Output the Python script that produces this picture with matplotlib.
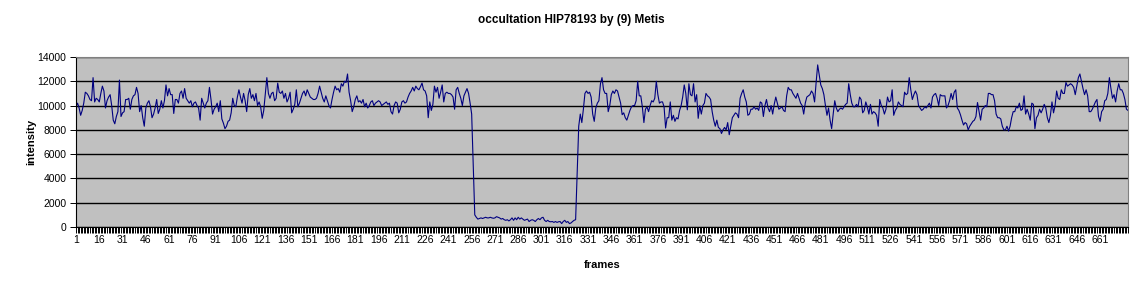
import numpy as np
import matplotlib
matplotlib.use("Agg")
from matplotlib import pyplot as plt
from matplotlib.ticker import MultipleLocator, FixedLocator

# intensity per frame
before = [
    9900, 10200, 9800, 9200, 9600, 10200, 11100, 11000, 10800, 10500,
    10400, 12300, 10300, 10600, 10500, 10300, 11000, 11600, 11200, 9800,
    10400, 10700, 10900, 10000, 8800, 8500, 9100, 9500, 12100, 9100,
    9400, 9500, 10500, 10500, 10600, 9700, 10500, 10800, 10900, 11500,
    11000, 9500, 10000, 9000, 8300, 9800, 10200, 10400, 9900, 9000,
    9300, 9800, 10500, 9350, 9700, 10400, 9800, 10400, 11700, 10800,
    11400, 10900, 10900, 9350, 10500, 10500, 10200, 11000, 11200, 10600,
    11400, 10600, 10400, 10200, 10400, 9900, 10200, 10300, 10000, 9800,
    8800, 10600, 10200, 9800, 10200, 10400, 11500, 10500, 9300, 9700,
    9900, 10200, 9500, 10400, 8900, 8550, 8100, 8300, 8700, 8800,
    9400, 10600, 10000, 9900, 10700, 11300, 10700, 10200, 11000, 10400,
    9500, 10900, 11400, 10600, 10900, 10400, 11000, 10000, 10300, 9900,
    8950, 9600, 11000, 12300, 11000, 10600, 11000, 11100, 10400, 10600,
    11850, 11100, 11000, 11200, 10600, 11000, 10300, 10600, 11100, 9400,
    9700, 10100, 11300, 9900, 10200, 10600, 11000, 11200, 10800, 11300,
    11000, 10700, 10600, 10500, 10500, 10600, 11000, 11600, 11100, 10600,
    10300, 10800, 10400, 10000, 9800, 10500, 11100, 11600, 11300, 11400,
    11100, 11800, 11600, 12000, 11900, 12600, 11100, 10400, 9500, 9900,
    10500, 10800, 10300, 10400, 10200, 10500, 9900, 10200, 9800, 10000,
    10300, 10400, 10000, 10200, 10300, 10400, 10300, 10000, 10100, 10200,
    10300, 10100, 10200, 9500, 9300, 10000, 10300, 10200, 9400, 9700,
    10300, 10400, 10200, 10300, 10700, 11000, 11200, 11500, 11200, 11600,
    11400, 11300, 11550, 11850, 11300, 11200, 10800, 9000, 10300, 9600,
    10100, 11600, 11100, 11500, 10600, 11100, 11700, 10300, 11000, 11100,
    11000, 11000, 10900, 10700, 9700, 11300, 11500, 11000, 10600, 10000,
    10800, 11100, 11400, 11000, 10200, 9300,
]

during = [
    5000, 1000, 800, 650, 700, 750, 700, 750, 800, 750,
    750, 800, 750, 720, 750, 850, 800, 750, 650, 700,
    600, 550, 600, 500, 600, 750, 550, 750, 600, 800,
    650, 750, 650, 550, 600, 650, 450, 550, 600, 550,
    450, 600, 700, 600, 750, 800, 550, 450, 550, 450,
    430, 450, 380, 450, 380, 430, 450, 280, 450, 550,
    380, 450, 280, 330, 450, 550, 600,
]

after = [
    4500, 8300, 9300, 8600, 9700, 11000, 11200,
    11000, 11100, 10700, 9300, 8700, 9800, 10200, 10400,
    11800, 12300, 11300, 11000, 11000, 9500, 10000, 10900, 11200, 11000,
    11300, 11200, 10700, 10200, 9250, 9400, 9000, 8800, 9200, 9600,
    9900, 10000, 10000, 10400, 12000, 10800, 10800, 9900, 8600, 9700,
    9900, 9500, 10000, 10400, 10300, 10600, 12000, 10900, 10200, 10300,
    10300, 9900, 8150, 9000, 9000, 10300, 8800, 9200, 8700, 9000,
    8900, 9600, 10000, 10700, 11700, 11000, 9650, 11800, 10900, 10800,
    11800, 10300, 10900, 8950, 10000, 9300, 10000, 10200, 11000, 10800,
    10700, 10500, 9500, 8800, 8300, 8800, 8200, 8100, 7700, 8000,
    8200, 8000, 8600, 7600, 8300, 9000, 9200, 9400, 9300, 9000,
    10600, 11000, 11300, 10700, 10300, 9200, 9300, 9700, 9700, 9900,
    9700, 9800, 9600, 10300, 10200, 9100, 10000, 10500, 9800, 9500,
    10000, 9300, 10100, 10700, 10200, 9700, 9800, 9900, 9600, 9500,
    10800, 11500, 11300, 11300, 11000, 10800, 10600, 11000, 10600, 10200,
    10000, 9300, 10200, 10700, 10800, 10900, 11200, 11000, 10300, 11900,
    13350, 12500, 11700, 11400, 10900, 10000, 9200, 9800, 8800, 8100,
    9300, 10400, 9800, 9500, 9700, 9800, 9700, 9900, 10100, 10200,
    11800, 10900, 10200, 9900, 9900, 10100, 9900, 10700, 10500, 9400,
    9600, 10300, 9900, 9300, 10100, 9300, 9500, 9400, 9200, 8300,
    10500, 10000, 9800, 9300, 9700, 10700, 10300, 10400, 11300, 9200,
    9600, 9800, 10300, 10100, 10000, 9900, 11100, 10900, 11000, 12300,
    11300, 10500, 10900, 11200, 10900, 10000, 9800, 9600, 9700, 9900,
    9800, 10000, 10200, 9800, 10700, 10900, 11000, 10600, 10000, 10900,
    10800, 10800, 10800, 9800, 10000, 10400, 11000, 10500, 11100, 11300,
    9800, 9600, 9250, 8800, 8400, 8600, 8500, 8000, 8300, 8500,
    8700, 8800, 9100, 10250, 9500, 8800, 9700, 9800, 10000, 9900,
    11000, 11000, 10900, 10900, 10400, 9300, 9000, 9000, 8900, 8300,
    8000, 8000, 8300, 7900, 8300, 9000, 9500, 9500, 9900, 9800,
    10200, 9600, 9700, 10800, 9300, 9700, 9300, 8800, 10200, 10100,
    8100, 9000, 9200, 9700, 9400, 9700, 10100, 9800, 9000, 8600,
    9200, 10300, 9400, 10000, 11200, 10600, 10500, 11300, 11000, 11000,
    11900, 11600, 11700, 11800, 11700, 11500, 10900, 11600, 12300, 12600,
    12000, 11400, 10900, 11300, 10800, 9500, 9500, 9700, 10000, 10300,
    10500, 9100, 8700, 9500, 9700, 10400, 10500, 11000, 12300, 11400,
    10600, 10900, 10300, 11200, 11800, 11300, 11300, 11000, 10500, 9700,
    9600,
]

intensity = np.array(before + during + after)
frames = np.arange(1, len(intensity) + 1)
ytick_values = list(range(0, 14001, 2000))
xtick_labels = list(range(1, 662, 15))

plt.rcParams['font.family'] = ['Liberation Sans', 'DejaVu Sans']

fig = plt.figure(figsize=(11.42, 2.90), dpi=100)
ax = fig.add_axes([76 / 1142, 1 - 227 / 290, (1128 - 76) / 1142, (227 - 57) / 290])
ax.set_facecolor('#c0c0c0')

ax.plot(frames, intensity, color='#000080', lw=0.8)

ax.set_xlim(1, len(intensity))
ax.set_ylim(0, 14000)
ax.set_yticks(ytick_values)
ax.set_yticklabels([str(v) for v in ytick_values])
ax.yaxis.grid(True, color='black', lw=1)
ax.set_axisbelow(True)

ax.xaxis.set_major_locator(FixedLocator(xtick_labels))
ax.set_xticklabels([str(v) for v in xtick_labels])
ax.xaxis.set_minor_locator(MultipleLocator(1))
ax.tick_params(axis='x', which='both', direction='out', length=4, width=0.7,
               labelsize=7.5, pad=2, color='black')
ax.tick_params(axis='y', direction='out', length=4, width=0.7, labelsize=7.5, pad=3)

for side in ('top', 'right'):
    ax.spines[side].set_color('#808080')
for side in ('left', 'bottom'):
    ax.spines[side].set_color('black')

fig.text(0.5, 1 - 20 / 290, 'occultation HIP78193 by (9) Metis',
         ha='center', va='center', fontsize=8.5, fontweight='bold')
fig.text(602 / 1142, 1 - 265 / 290, 'frames', ha='center', va='center',
         fontsize=8, fontweight='bold')
fig.text(31 / 1142, 1 - 142 / 290, 'intensity', ha='center', va='center',
         rotation=90, fontsize=8, fontweight='bold')

fig.savefig('out.png', dpi=100)
